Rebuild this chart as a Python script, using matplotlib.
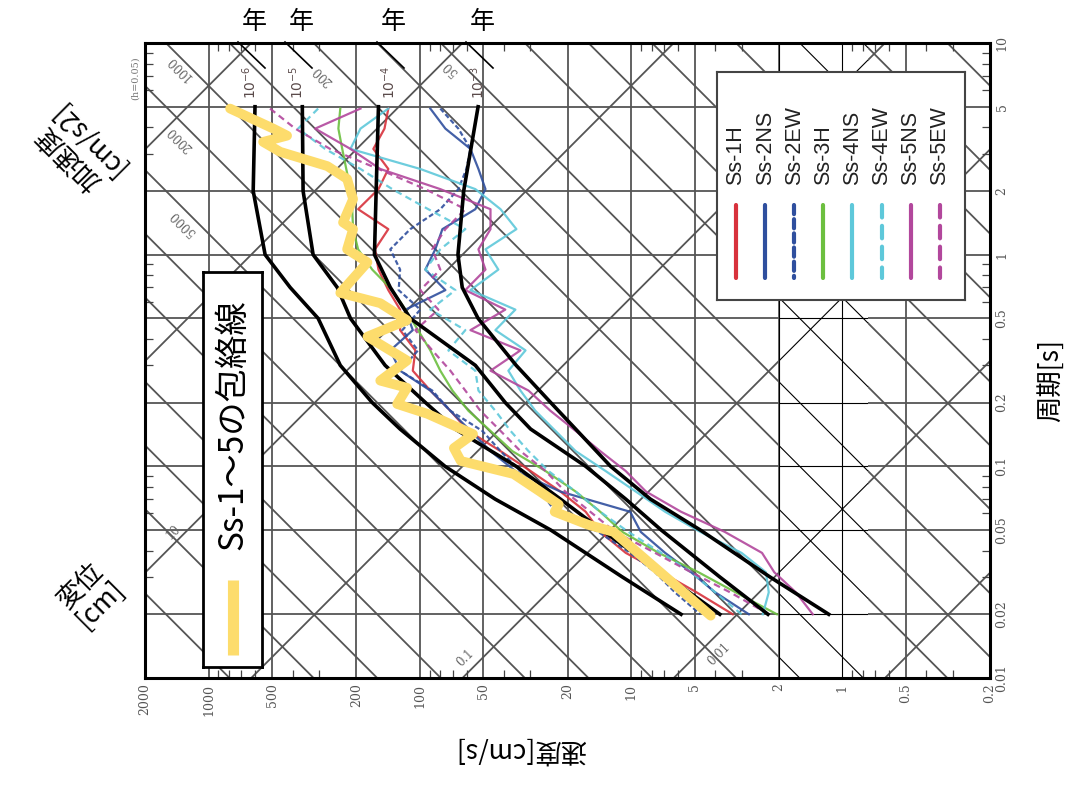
import numpy as np
import matplotlib
matplotlib.use("Agg")
import matplotlib.pyplot as plt
from matplotlib.lines import Line2D
from matplotlib.ticker import NullFormatter

plt.rcParams['font.family'] = ['Noto Sans CJK JP', 'DejaVu Sans']

# ---- data (velocity response spectra, h=0.05) ----
# periods [s] at which the Ss spectra were read
periods = [4.90, 3.94, 3.16, 2.54, 2.04, 1.64, 1.32, 1.06, 0.85, 0.68, 0.55, 0.44, 0.353,
           0.283, 0.228, 0.183, 0.147, 0.118, 0.095, 0.076, 0.061, 0.049, 0.039, 0.0316,
           0.0254, 0.02]

ss_1h = [141, 147, 166, 141, 157, 196, 141, 163, 157, 141, 124, 124, 105, 108, 89.2, 71.7,
         58.9, 41.5, 29.9, 21.6, 16.4, 14.0, 10.6, 7.2, 4.9, 3.3]
ss_2ns = [89.2, 75.7, 57.6, 52.8, 48.9, 54.6, 78.2, 84.5, 94.2, 75.7, 117, 108, 138, 124,
          89.2, 71.7, 57.6, 46.3, 35.3, 21.6, 10.1, 9.0, 6.9, 5.2, 4.0, 2.77]
ss_2ew = [80, 65.7, 57.6, 60.2, 65.7, 80, 111, 138, 124, 126, 99.5, 121, 102, 124, 87.3,
          71.7, 50.6, 41.5, 33.4, 26.8, 22.8, 14.3, 10.1, 7.7, 6.2, 4.7]
ss_3h = [238, 243, 233, 223, 213, 209, 207, 196, 168, 135, 117, 102, 89.2, 80, 70.1, 58.9,
         46.3, 36.5, 25.4, 18.3, 14.0, 11.0, 7.4, 4.8, 3.2, 2.04]
ss_4ns = [141, 191, 213, 99.5, 54.6, 41.5, 34.9, 48.9, 42.5, 57.6, 35.3, 43.9, 31.6, 38.1,
          33.4, 28.4, 22.8, 18.3, 13.2, 9.5, 6.9, 4.7, 3.0, 2.3, 2.23, 2.38]
ss_4ew = [303, 377, 281, 191, 135, 91.2, 60.9, 80, 94.2, 67.9, 89.2, 60.9, 73.3, 54.6, 52.8,
          43.9, 37.2, 30.6, 24.6, 18.3, 14.0, 10.3, 7.2, 5.2, 4.0, 3.0]
ss_5ns = [191, 313, 213, 154, 80, 46.3, 46.3, 52.8, 48.9, 60.9, 39.4, 57.6, 33.4, 46.3, 30.6,
          24.1, 18.3, 14.0, 10.6, 8.5, 5.8, 3.6, 2.4, 2.1, 1.66, 1.38]
ss_5ew = [512, 389, 266, 157, 94.2, 60.9, 75.7, 87.3, 80, 99.5, 81.7, 105, 87.3, 71.7, 60.9,
          51.7, 41.5, 33.4, 25.4, 20.5, 15.6, 11.9, 7.7, 5.2, 3.4, 2.23]

# envelope of Ss-1~5
env_T = [4.90, 3.94, 3.65, 3.41, 3.06, 2.62, 2.28, 1.83, 1.42, 1.32, 1.06, 0.92, 0.66, 0.59,
         0.49, 0.41, 0.316, 0.254, 0.235, 0.197, 0.177, 0.142, 0.122, 0.106, 0.092, 0.076,
         0.066, 0.061, 0.053, 0.049, 0.0197]
env_V = [791, 494, 425, 552, 458, 274, 221, 207, 231, 207, 221, 177, 238, 154, 115, 177, 115,
         154, 115, 128, 92, 56, 69, 64, 36, 27, 22, 23, 16, 12.1, 4.2]

# uniform hazard spectra (annual exceedance 1e-6 ... 1e-3)
uhs_T = [5, 2, 1, 0.7, 0.5, 0.3, 0.2, 0.15, 0.1, 0.07, 0.05, 0.03, 0.02]
uhs_1e6 = [603, 615, 540, 411, 303, 238, 168, 124, 76, 44, 24, 11, 5.8]
uhs_1e5 = [360, 357, 320, 246, 213, 146, 94, 68, 35, 21.6, 13.8, 6.7, 3.8]
uhs_1e4 = [157, 161, 164, 138, 111, 54.6, 39.4, 29.9, 16.4, 10.6, 7.2, 3.8, 2.25]
uhs_1e3 = [53, 62, 66, 63, 53, 35, 24, 18.3, 12.5, 8.1, 4.7, 2.2, 1.16]
uhs_labels = ['-6', '-5', '-4', '-3']

vel_ticks = [2000, 1000, 500, 200, 100, 50, 20, 10, 5, 2, 1, 0.5, 0.2]
vel_labels = ['2000', '1000', '500', '200', '100', '50', '20', '10', '5', '2', '1', '0.5', '0.2']
per_ticks = [10, 5, 2, 1, 0.5, 0.2, 0.1, 0.05, 0.02, 0.01]
per_labels = ['10', '5', '2', '1', '0.5', '0.2', '0.1', '0.05', '0.02', '0.01']
acc_lines = [a * 10.0 ** k for k in range(-1, 6) for a in (1, 2, 5)]
disp_lines = [10.0 ** k for k in range(-4, 5)]

names = ['Ss-1H', 'Ss-2NS', 'Ss-2EW', 'Ss-3H', 'Ss-4NS', 'Ss-4EW', 'Ss-5NS', 'Ss-5EW']
colors = ['#d8323c', '#2f4f9e', '#2f4f9e', '#6cbf3f', '#5ec8da', '#5ec8da', '#b2479c', '#b2479c']
styles = ['-', '-', (0, (2.2, 1.2)), '-', '-', (0, (3, 2)), '-', (0, (3, 2))]
spectra = [ss_1h, ss_2ns, ss_2ew, ss_3h, ss_4ns, ss_4ew, ss_5ns, ss_5ew]

W, H = 1088, 787
fig = plt.figure(figsize=(W / 100, H / 100), dpi=100)
ax = fig.add_axes([145 / W, 1 - 678 / H, 845 / W, 635 / H])
ax.set_xscale('log')
ax.set_yscale('log')
ax.set_xlim(2000, 0.2)
ax.set_ylim(0.01, 10)

Tgrid = np.logspace(-2, 1, 200)
grid_kw = dict(color='#555555', lw=1.3, zorder=1)


def draw_grid(kw, clip=None):
    arts = []
    for v in vel_ticks:
        arts.append(ax.axvline(v, **kw))
    for t in per_ticks:
        arts.append(ax.axhline(t, **kw))
    for a in acc_lines:
        arts += ax.plot(a * Tgrid / (2 * np.pi), Tgrid, **kw)
    for d in disp_lines:
        arts += ax.plot(2 * np.pi * d / Tgrid, Tgrid, **kw)
    if clip is not None:
        for a in arts:
            a.set_clip_path(clip)


draw_grid(grid_kw)
band = ax.axvspan(0.76, 2, color='white', lw=0, zorder=1.5)
draw_grid(dict(color='black', lw=0.8, zorder=1.6), clip=band)

# diagonal labels
lab_kw = dict(fontsize=8.5, color='#666', ha='center', va='center', family='DejaVu Serif')
for txt, v, t in [('1000', 1365, 7.6), ('2000', 1365, 3.53), ('5000', 1321, 1.42),
                  ('200', 287, 7.04), ('50', 71.7, 7.6)]:
    ax.text(v, t, txt, rotation=135, **lab_kw)
for txt, v, t in [('10', 1473, 0.049), ('0.1', 60.9, 0.0125), ('0.01', 3.85, 0.0129)]:
    ax.text(v, t, txt, rotation=45, **lab_kw)

# spectra
for vals, c, ls in zip(spectra, colors, styles):
    ax.plot(vals, periods, color=c, ls=ls, lw=1.6, alpha=0.9, zorder=3)
for vals in [uhs_1e6, uhs_1e5, uhs_1e4, uhs_1e3]:
    ax.plot(vals, uhs_T, color='black', lw=2.6, zorder=4)
ax.plot(env_V, env_T, color='#fddc6c', lw=7, solid_joinstyle='round', solid_capstyle='round',
        zorder=5)

# ticks
ax.set_xticks(vel_ticks)
ax.set_xticklabels(vel_labels, rotation=90, family='DejaVu Serif')
ax.set_yticks(per_ticks)
ax.set_yticklabels(per_labels, rotation=90, va='center', family='DejaVu Serif')
ax.xaxis.set_minor_formatter(NullFormatter())
ax.yaxis.set_minor_formatter(NullFormatter())
ax.tick_params(which='major', length=0, labelsize=9, labelcolor='#555', pad=4)
ax.tick_params(which='minor', direction='in', length=6, width=0.9, color='#444')
ax.tick_params(which='both', top=True, right=True, left=True, bottom=True,
               labelleft=False, labelright=True, labelbottom=True)
for s in ax.spines.values():
    s.set_linewidth(2.2)

# uniform hazard labels
for lab, x in zip(uhs_labels, [250, 297, 389, 478]):
    fig.text(x / W, 1 - 82 / H, r'$10^{%s}$' % lab, rotation=90, ha='center', va='center',
             fontsize=10, color='#5a4a4a')
    fig.add_artist(Line2D([(x - 12) / W, (x + 15) / W], [1 - 42 / H, 1 - 68 / H],
                          color='black', lw=1.2))
    fig.text((x + 4) / W, 1 - 22 / H, '年', fontsize=18, ha='center', va='center')

fig.text(135 / W, 1 - 78 / H, '(h=0.05)', rotation=90, fontsize=7, color='#777',
         ha='center', va='center', family='DejaVu Serif')

# axis titles
fig.text(520 / W, 1 - 750 / H, '速度[cm/s]', rotation=180, fontsize=19, ha='center',
         va='center')
fig.text(1050 / W, 1 - 380 / H, '周期[s]', rotation=90, fontsize=19, ha='center', va='center')
fig.text(78 / W, 1 - 148 / H, '加速度\n[cm/s2]', rotation=135, fontsize=19, ha='center',
         va='center', linespacing=1.0, rotation_mode='anchor')
fig.text(90 / W, 1 - 595 / H, '変位\n[cm]', rotation=45, fontsize=19, ha='center',
         va='center', linespacing=1.0, rotation_mode='anchor')

# envelope legend box
lg1 = fig.add_axes([203 / W, 1 - 667 / H, 59 / W, 395 / H])
lg1.set_xlim(0, 59)
lg1.set_ylim(395, 0)
lg1.set_xticks([])
lg1.set_yticks([])
for s in lg1.spines.values():
    s.set_linewidth(2)
lg1.plot([29.5, 29.5], [308, 383], color='#fddc6c', lw=8, solid_capstyle='butt')
lg1.text(29.5, 153, 'Ss-1～5の包絡線', rotation=90, fontsize=24, ha='center', va='center')

# series legend box
lg2 = fig.add_axes([717 / W, 1 - 300 / H, 248 / W, 228 / H])
lg2.set_xlim(0, 248)
lg2.set_ylim(228, 0)
lg2.set_xticks([])
lg2.set_yticks([])
for s in lg2.spines.values():
    s.set_linewidth(1.5)
    s.set_color('#444')
for i, (n, c, ls) in enumerate(zip(names, colors, styles)):
    x = 19 + i * 29.1
    lg2.plot([x, x], [133, 206], color=c, ls=ls, lw=3, solid_capstyle='round',
             dash_capstyle='round')
    lg2.text(x, 113, n, rotation=90, fontsize=15.5, ha='center', va='bottom',
             family='Liberation Sans', color='#222')

fig.savefig('out.png', dpi=100)
